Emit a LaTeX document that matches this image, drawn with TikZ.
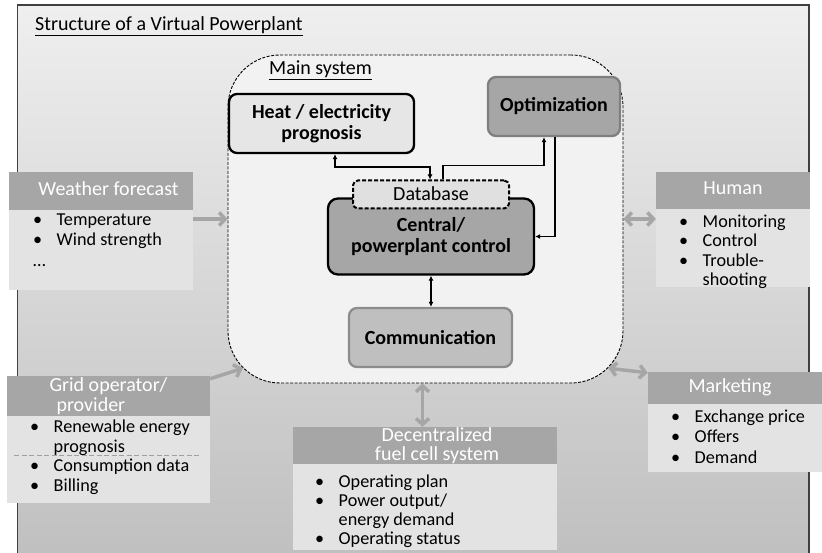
\documentclass[tikz,border=0pt]{standalone}
\usepackage{fontspec}
\setmainfont{Carlito}
\usetikzlibrary{arrows.meta}
\definecolor{frametop}{HTML}{EFEFEF}
\definecolor{framebot}{HTML}{BEBEBE}
\definecolor{framec}{HTML}{404040}
\definecolor{mainfill}{HTML}{F2F2F2}
\definecolor{hdrfill}{HTML}{A6A6A6}
\definecolor{bodyfill}{HTML}{E3E3E3}
\definecolor{heatfill}{HTML}{E6E6E6}
\definecolor{dbfill}{HTML}{E0E0E0}
\definecolor{darkfill}{HTML}{A6A6A6}
\definecolor{optborder}{HTML}{7F7F7F}
\definecolor{commfill}{HTML}{BFBFBF}
\definecolor{commborder}{HTML}{8C8C8C}
\definecolor{arrowc}{HTML}{A6A6A6}
\definecolor{sepc}{HTML}{A0A0A0}
\newcommand\fhead{\fontsize{20}{19.4}\selectfont}
\newcommand\fbold{\fontsize{20}{20.5}\selectfont\bfseries}
\newcommand\bl{\makebox[23.5pt][l]{\textbullet}}
\newcommand\cn{\hspace*{23.5pt}}
\tikzset{
  hdr/.style={fill=hdrfill, draw=none, text=white, font=\fhead, inner sep=0pt, text height=13pt, text depth=4pt},
  hdrtwo/.style={fill=hdrfill, draw=none, text=white, font=\fhead, inner sep=0pt},
  body/.style={fill=bodyfill, draw=none, inner sep=0pt},
  blist/.style={anchor=base west, inner sep=0pt, font=\fontsize{18.2}{#1}\selectfont},
  inbox/.style={font=\fbold, align=center, inner sep=0pt, line width=2.3pt},
  blk/.style={draw=black, line width=1.4pt},
  blkarr/.style={-{Latex[length=5pt,width=5pt]}},
  blkdbl/.style={{Latex[length=5pt,width=5pt]}-{Latex[length=5pt,width=5pt]}},
  garrow/.style={draw=arrowc, line width=3.5pt, -{Straight Barb[length=6pt,width=13pt]}},
  gdbl/.style={draw=arrowc, line width=3.5pt, {Straight Barb[length=6pt,width=13pt]}-{Straight Barb[length=6pt,width=13pt]}},
}
\begin{document}
\begin{tikzpicture}[x=1pt,y=-1pt]
\useasboundingbox (0,0) rectangle (822,553);
\clip (0,0) rectangle (822,553);
% outer frame
\shade[top color=frametop, bottom color=framebot] (17.5,5) rectangle (809,575);
\draw[framec, line width=1.5pt] (17.5,5) rectangle (809,575);
\node[anchor=base west, inner sep=0pt, font=\fhead] (title) at (35,31) {\underline{Structure of a Virtual Powerplant}};
% main system
\node[draw=black, fill=mainfill, line width=0.9pt, dash pattern=on 3pt off 1.5pt, rounded corners=52pt,
      minimum width=395pt, minimum height=328pt, inner sep=0pt] (main) at (425.5,219) {};
\node[anchor=base west, inner sep=0pt, font=\fhead] (mlabel) at (269,75) {\underline{Main system}};
% inner boxes
\node[inbox, draw=black, fill=heatfill, rounded corners=8pt, minimum width=185pt, minimum height=59pt] (heat) at (321.5,123.5) {Heat / electricity\\prognosis};
\node[inbox, draw=optborder, fill=darkfill, rounded corners=8pt, minimum width=132pt, minimum height=59pt] (opt) at (554,106.5) {Optimization};
\node[inbox, draw=black, fill=darkfill, rounded corners=10pt, minimum width=206pt, minimum height=76pt] (central) at (431,236.5) {Central/\\powerplant control};
\node[draw=black, fill=dbfill, line width=2pt, dash pattern=on 4pt off 2pt, rounded corners=5pt, font=\fhead,
      minimum width=156pt, minimum height=28pt, inner sep=0pt, text height=13pt, text depth=0pt] (db) at (431,194.5) {Database};
\node[inbox, draw=commborder, fill=commfill, rounded corners=8pt, minimum width=163pt, minimum height=59pt] (comm) at (430.5,337.5) {Communication};
% black connectors
\draw[blk, blkdbl] ([xshift=13.5pt]heat.south) -- ++(0,13) -| ([xshift=-1pt]db.north);
\draw[blk, blkarr] ([xshift=12pt]db.north) -- ++(0,-14) -| ([xshift=-10pt]opt.south);
\draw[blk, blkarr] ([xshift=1pt]opt.south) |- (central.east);
\draw[blk, blkdbl] (central.south) -- (central.south |- comm.north);
% weather forecast
\node[hdr, minimum width=184pt, minimum height=38pt] (whead) at (101,191) {\hspace*{15pt}Weather forecast};
\node[body, minimum width=184pt, minimum height=80pt] (wbody) at (101,250) {};
\node[blist=20.3] (wlist) at (33,225.5) {\begin{tabular}[t]{@{}l@{}}\bl Temperature\\ \bl Wind strength\\ …\end{tabular}};
% human
\node[hdr, minimum width=154pt, minimum height=37pt] (hhead) at (733,190.5) {Human};
\node[body, minimum width=154pt, minimum height=78pt] (hbody) at (733,248) {};
\node[blist=19.4] (hlist) at (679,227.5) {\begin{tabular}[t]{@{}l@{}}\bl Monitoring\\ \bl Control\\ \bl Trouble-\\ \cn shooting\end{tabular}};
% grid operator
\node[hdrtwo, align=left, minimum width=203pt, minimum height=40pt] (ghead) at (108.5,396) {Grid operator/\\\hspace*{7pt}provider};
\node[body, minimum width=203pt, minimum height=87pt] (gbody) at (108.5,459.5) {};
\node[blist=19.5] (glist) at (30,432.5) {\begin{tabular}[t]{@{}l@{}}\bl Renewable energy\\ \cn prognosis\\ \bl Consumption data\\ \bl Billing\end{tabular}};
\draw[sepc, line width=1pt, dash pattern=on 5pt off 2.5pt] (14,455.5) -- (200,455.5);
% decentralized
\node[hdrtwo, align=center, minimum width=264pt, minimum height=37pt] (dhead) at (425,445.5) {\hspace*{24pt}Decentralized\\\hspace*{24pt}fuel cell system};
\node[body, minimum width=264pt, minimum height=86pt] (dbody) at (425,507) {};
\node[blist=19.3] (dlist) at (315,487) {\begin{tabular}[t]{@{}l@{}}\bl Operating plan\\ \bl Power output/\\ \cn energy demand\\ \bl Operating status\end{tabular}};
% marketing
\node[hdr, minimum width=174pt, minimum height=32pt] (mhead) at (735,388) {\hspace*{-10pt}Marketing};
\node[body, minimum width=174pt, minimum height=68pt] (mbody) at (735,438) {};
\node[blist=20.5] (mlist) at (671,422) {\begin{tabular}[t]{@{}l@{}}\bl Exchange price\\ \bl Offers\\ \bl Demand\end{tabular}};
% gray arrows
\draw[garrow] (wbody.east |- main.west) -- (main.west);
\draw[gdbl] (main.east) -- (main.east -| hbody.west);
\draw[garrow] ([yshift=-3pt]ghead.north east) -- ([shift={(15.2,-15.2)}]main.south west);
\draw[gdbl] ([xshift=-3pt]main.south) -- ([xshift=-3pt]main.south |- dhead.north);
\draw[gdbl] ([shift={(-15.2,-15.2)}]main.south east) -- ([yshift=-1pt]mhead.north west);
\end{tikzpicture}
\end{document}
